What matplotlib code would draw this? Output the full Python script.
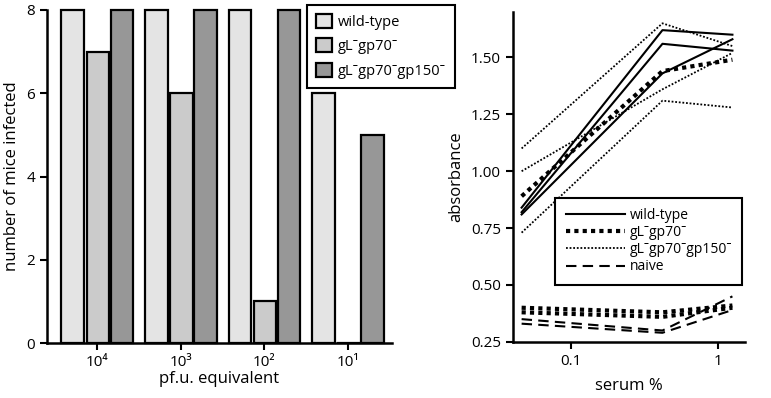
import numpy as np
import matplotlib
matplotlib.use("Agg")
import matplotlib.pyplot as plt
from matplotlib.lines import Line2D
from matplotlib.patches import Patch

plt.rcParams['font.family'] = ['Open Sans', 'DejaVu Sans']
plt.rcParams['font.size'] = 11

# left panel: mice infected per dose
doses = ["10⁴", "10³", "10²", "10¹"]
strains = ["wild-type", "gLˉgp70ˉ", "gLˉgp70ˉgp150ˉ"]
infected = {
    "wild-type": [8, 8, 8, 6],
    "gLˉgp70ˉ": [7, 6, 1, 0],
    "gLˉgp70ˉgp150ˉ": [8, 8, 8, 5],
}
bar_colors = ["#e4e4e4", "#cbcbcb", "#979797"]

# right panel: absorbance vs serum %
serum = [0.046, 0.42, 1.26]
wild_type = [[0.84, 1.62, 1.60],
             [0.82, 1.56, 1.53],
             [0.81, 1.43, 1.58]]
gl_gp70 = [[0.89, 1.44, 1.49],
           [0.40, 0.38, 0.41],
           [0.38, 0.36, 0.40]]
gl_gp70_gp150 = [[1.10, 1.65, 1.55],
                 [1.00, 1.36, 1.52],
                 [0.73, 1.31, 1.28]]
naive = [[0.35, 0.30, 0.45],
         [0.33, 0.29, 0.39]]

fig = plt.figure(figsize=(7.71, 3.98), dpi=100)

# ---- left panel
ax1 = fig.add_axes([0.061, 0.138, 0.447, 0.837])
x = np.arange(len(doses))
offsets = [-0.29, 0.01, 0.30]
for i, s in enumerate(strains):
    vals = np.array(infected[s])
    ax1.bar(x + offsets[i], vals, width=0.27, color=bar_colors[i],
            edgecolor="black", linewidth=1.6, clip_on=False, label=s)

ax1.set_xlim(-0.598, 3.526)
ax1.set_ylim(0, 8)
ax1.set_yticks([0, 2, 4, 6, 8])
ax1.set_xticks(x)
ax1.set_xticklabels(doses)
ax1.set_xlabel("pf.u. equivalent", fontsize=12, labelpad=1)
ax1.set_ylabel("number of mice infected", fontsize=12, labelpad=5)
for sp in ["top", "right"]:
    ax1.spines[sp].set_visible(False)
for sp in ["left", "bottom"]:
    ax1.spines[sp].set_linewidth(1.8)
ax1.tick_params(direction="out", length=5, width=1.5, labelsize=11)

handles = [Patch(facecolor=c, edgecolor="black", linewidth=1.6) for c in bar_colors]
leg1 = ax1.legend(handles, strains, loc="upper left", bbox_to_anchor=(0.754, 1.015),
                  borderaxespad=0, fancybox=False, edgecolor="black", framealpha=1,
                  fontsize=10.5, handlelength=1.1, handleheight=1.1, handletextpad=0.45,
                  labelspacing=0.6, borderpad=0.6)
leg1.get_frame().set_linewidth(1.5)

# ---- right panel
ax2 = fig.add_axes([0.665, 0.141, 0.301, 0.829])
for ys in wild_type:
    ax2.plot(serum, ys, color="black", linestyle="-", linewidth=1.5)
for ys in gl_gp70:
    ax2.plot(serum, ys, color="black", linestyle=(0, (1, 1)), linewidth=3.0)
for ys in gl_gp70_gp150:
    ax2.plot(serum, ys, color="black", linestyle=(0, (1, 1)), linewidth=1.3)
for ys in naive:
    ax2.plot(serum, ys, color="black", linestyle=(0, (5, 3)), linewidth=1.5)

ax2.set_xscale("log")
ax2.set_xlim(0.04, 1.53)
ax2.set_ylim(0.25, 1.70)
ax2.set_xticks([0.1, 1])
ax2.set_xticklabels(["0.1", "1"])
ax2.xaxis.set_minor_locator(matplotlib.ticker.NullLocator())
ax2.set_yticks([0.25, 0.50, 0.75, 1.00, 1.25, 1.50])
ax2.set_yticklabels(["0.25", "0.50", "0.75", "1.00", "1.25", "1.50"])
ax2.set_xlabel("serum %", fontsize=12, labelpad=7)
ax2.set_ylabel("absorbance", fontsize=12, labelpad=5)
for sp in ["top", "right"]:
    ax2.spines[sp].set_visible(False)
for sp in ["left", "bottom"]:
    ax2.spines[sp].set_linewidth(1.8)
ax2.tick_params(direction="out", length=5, width=1.5, labelsize=11)

line_handles = [
    Line2D([], [], color="black", linestyle="-", linewidth=1.5),
    Line2D([], [], color="black", linestyle=(0, (1, 1)), linewidth=3.0),
    Line2D([], [], color="black", linestyle=(0, (1, 1)), linewidth=1.3),
    Line2D([], [], color="black", linestyle=(0, (5, 3)), linewidth=1.5),
]
leg2 = ax2.legend(line_handles, strains + ["naive"], loc="lower right",
                  bbox_to_anchor=(0.99, 0.173), borderaxespad=0, fancybox=False,
                  edgecolor="black", framealpha=1, fontsize=10, handlelength=4.3,
                  handletextpad=0.3, labelspacing=0.15, borderpad=0.75)
leg2.get_frame().set_linewidth(1.5)

fig.savefig("out.png", dpi=100)
